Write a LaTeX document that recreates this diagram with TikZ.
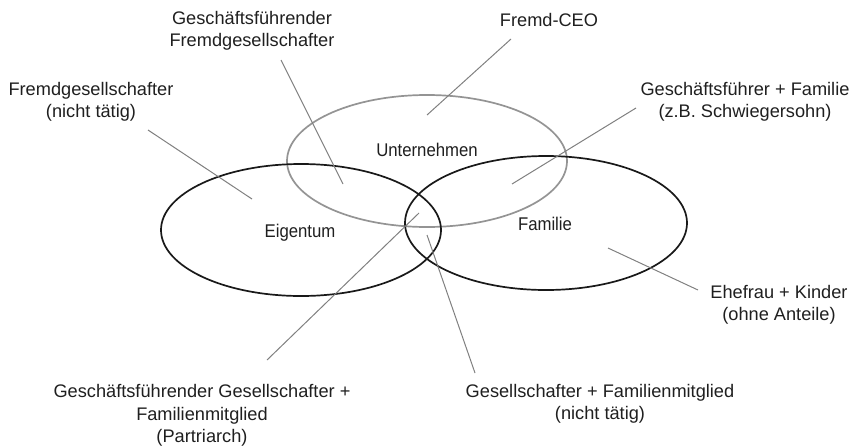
\documentclass[tikz,border=0pt]{standalone}
\usepackage{fontspec}
\setmainfont{Liberation Sans}
\newfontfamily\narrowsans{Liberation Sans}[FakeStretch=0.91]
\begin{document}
\begin{tikzpicture}[x=1pt,y=-1pt,
  outerlabel/.style={align=center,inner sep=0pt,text=black!88,font=\fontsize{18.2}{22.5}\selectfont},
  innerlabel/.style={inner sep=0pt,text=black!88,font=\narrowsans\fontsize{18.4}{20}\selectfont},
  blackset/.style={draw=black!90,line width=1.7pt},
  grayset/.style={draw=black!42,line width=1.7pt},
  leader/.style={draw=black!50,line width=1pt}]
\useasboundingbox (0,0) rectangle (861,445);
% sets
\draw[grayset] (427,161) ellipse [x radius=140, y radius=66];
\draw[blackset] (301,230) ellipse [x radius=140, y radius=66];
\draw[blackset] (546,223) ellipse [x radius=141, y radius=67];
% set labels
\node[innerlabel] (unt) at (427,150) {Unternehmen};
\node[innerlabel] (eig) at (300,233) {Eigentum};
\node[innerlabel] (fam) at (545,224) {Familie};
% outer labels
\node[outerlabel] (gff) at (252,31) {Geschäftsführender\\Fremdgesellschafter};
\node[outerlabel] (ceo) at (549,20) {Fremd-CEO};
\node[outerlabel] (fgs) at (91,102) {Fremdgesellschafter\\(nicht tätig)};
\node[outerlabel] (gfam) at (745,102) {Geschäftsführer + Familie\\(z.B. Schwiegersohn)};
\node[outerlabel] (ehe) at (779,305) {Ehefrau + Kinder\\(ohne Anteile)};
\node[outerlabel] (pat) at (202,415.5) {Geschäftsführender Gesellschafter +\\Familienmitglied\\(Partriarch)};
\node[outerlabel] (gsf) at (600,404) {Gesellschafter + Familienmitglied\\(nicht tätig)};
% leader ends
\coordinate (gffA) at (281,60);  \coordinate (gffB) at (343,184);
\coordinate (ceoA) at (511,39);  \coordinate (ceoB) at (427,115);
\coordinate (fgsA) at (148,130); \coordinate (fgsB) at (252,199);
\coordinate (gfamA) at (636,108); \coordinate (gfamB) at (512,184);
\coordinate (eheA) at (698,290); \coordinate (eheB) at (608,248);
\coordinate (patA) at (267,360); \coordinate (patB) at (419,213);
\coordinate (gsfA) at (475,373); \coordinate (gsfB) at (427,235);
\draw[leader] (gffA) -- (gffB);
\draw[leader] (ceoA) -- (ceoB);
\draw[leader] (fgsA) -- (fgsB);
\draw[leader] (gfamA) -- (gfamB);
\draw[leader] (eheA) -- (eheB);
\draw[leader] (patA) -- (patB);
\draw[leader] (gsfA) -- (gsfB);
\end{tikzpicture}
\end{document}
